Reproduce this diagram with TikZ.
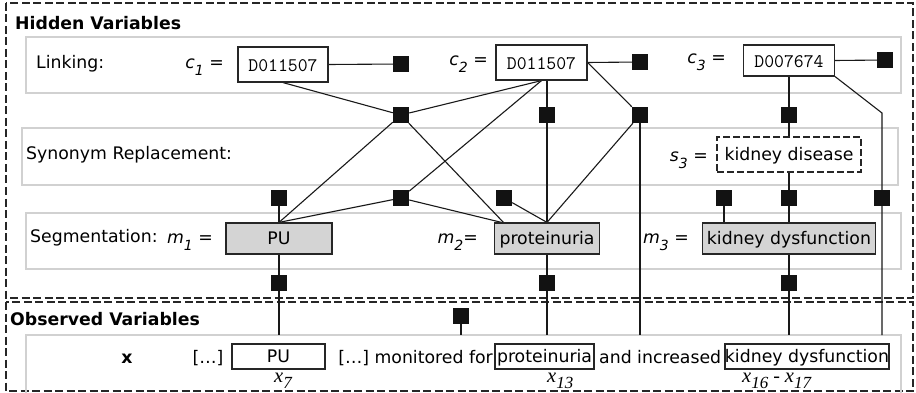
\documentclass[tikz,border=0pt]{standalone}
\usepackage{fontspec}
\setmainfont{DejaVu Sans}
\newfontfamily\serf{Liberation Serif}
\usetikzlibrary{calc}
\pgfdeclarelayer{back}
\pgfdeclarelayer{mid}
\pgfsetlayers{back,mid,main}
\newcommand\fsz{\fontsize{17.3}{20}\selectfont}
\newcommand\subsc[1]{\raisebox{-7pt}{\fontsize{14}{14}\selectfont\itshape #1}}
\newcommand\xsub[1]{{\serf\itshape\fontsize{20.5}{20}\selectfont x\raisebox{-6.5pt}{\fontsize{17}{17}\selectfont #1}}}
\tikzset{
  sq/.style={fill=black!93, draw=none, minimum size=16pt, inner sep=0pt},
  rowbox/.style={draw=black!18, line width=1.5pt},
  outerbox/.style={draw=black!85, line width=1.1pt, dash pattern=on 8pt off 3.5pt},
  conn/.style={draw=black!90, line width=1.1pt},
  cbox/.style={draw=black!85, fill=white, line width=1.2pt, inner sep=0pt, font=\ttfamily\fontsize{19.2}{20}\selectfont, text height=14.5pt, text depth=0pt},
  segbox/.style={draw=black!85, fill=black!17, line width=1.2pt, inner sep=0pt, font=\fsz, text height=12.6pt, text depth=0pt},
  obsbox/.style={draw=black!85, fill=white, line width=1.2pt, inner sep=0pt, font=\fsz, text height=12.6pt, text depth=0pt},
  synbox/.style={draw=black!85, fill=white, line width=1.2pt, dash pattern=on 7pt off 3pt, inner sep=0pt, font=\fsz, text height=12.6pt, text depth=0pt},
  lab/.style={font=\fsz, inner sep=0pt},
  head/.style={font=\fsz\bfseries, inner sep=0pt},
}
\begin{document}
\begin{tikzpicture}[x=1pt, y=-1pt]
\useasboundingbox (0,0) rectangle (916,393);
% outer dashed boxes and rows
\begin{pgfonlayer}{back}
\draw[outerbox] (6,3) rectangle (913,298);
\draw[outerbox] (6,302) rectangle (913,391);
\draw[rowbox] (26,37) rectangle (901,93);
\draw[rowbox] (22,128) rectangle (898,185);
\draw[rowbox] (26,213) rectangle (901,269);
\draw[rowbox] (26,393) -- (26,335) -- (901,335) -- (901,393);
\end{pgfonlayer}
\coordinate (obsTop) at (0,335);
% headings and labels
\node[head, anchor=base west] (hid) at (15,30) {Hidden Variables};
\node[head, anchor=base west] (obs) at (10,325) {Observed Variables};
\node[lab, anchor=base west] (llink) at (36,69) {Linking:};
\node[lab, anchor=base west] (lsyn) at (26,160) {Synonym Replacement:};
\node[lab, anchor=base west] (lseg) at (30,242) {Segmentation:};
% linking boxes
\node[cbox, minimum width=90pt, minimum height=35pt] (c1) at (283,64.5) {D011507};
\node[cbox, minimum width=91pt, minimum height=35pt] (c2) at (541.5,62.5) {D011507};
\node[cbox, minimum width=91pt, minimum height=31pt] (c3) at (789,60.5) {D007674};
\node[lab, anchor=base east] (c1l) at (224,69) {{\itshape c\subsc{1}} =};
\node[lab, anchor=base east] (c2l) at (488,65.5) {{\itshape c\subsc{2}} =};
\node[lab, anchor=base east] (c3l) at (726,64) {{\itshape c\subsc{3}} =};
% synonym
\node[synbox, minimum width=144pt, minimum height=35pt] (kd) at (789,154.5) {kidney disease};
\node[lab, anchor=base east] (s3l) at (708,161) {{\itshape s\subsc{3}} =};
% segmentation
\node[segbox, minimum width=106pt, minimum height=31pt] (pu) at (279,238.5) {PU};
\node[segbox, minimum width=105pt, minimum height=31pt] (pro) at (547,238.5) {proteinuria};
\node[segbox, minimum width=173pt, minimum height=31pt] (kdys) at (789,238.5) {kidney dysfunction};
\node[lab, anchor=base east] (m1l) at (213,243) {{\itshape m\subsc{1}} =};
\node[lab, anchor=base east] (m2l) at (478,243) {{\itshape m\subsc{2}}=};
\node[lab, anchor=base east] (m3l) at (689,243) {{\itshape m\subsc{3}} =};
\coordinate (proL) at (504,223);
% observed
\node[lab, anchor=base] (xl) at (127,363) {\bfseries x};
\node[lab, anchor=base] (dots1) at (208,363) {[…]};
\node[obsbox, minimum width=93pt, minimum height=25pt] (opu) at (278.5,356.5) {PU};
\node[lab, anchor=base east] (mon) at (493,363) {[…] monitored for};
\node[obsbox, minimum width=99pt, minimum height=25pt] (opro) at (544.5,356.5) {proteinuria};
\node[lab, anchor=base west] (andi) at (599,363) {and increased};
\node[obsbox, minimum width=164pt, minimum height=25pt] (okd) at (807,356.5) {kidney dysfunction};
\node[inner sep=0pt, anchor=base west] (x7) at (274,382) {\xsub{7}};
\node[inner sep=0pt, anchor=base west] (x13) at (547,382) {\xsub{13}};
\node[inner sep=0pt, anchor=base west] (x1617) at (742,382) {\xsub{16}{\serf\fontsize{20}{20}\selectfont{} - }\xsub{17}};
% factor squares
\node[sq] (lc1) at (401,64) {};
\node[sq] (lc2) at (640,62) {};
\node[sq] (lc3) at (885,60) {};
\node[sq] (fa) at (401,115) {};
\node[sq] (fb) at (547,115) {};
\node[sq] (fc) at (640,115) {};
\node[sq] (fd) at (789,115) {};
\node[sq] (ga) at (279,198) {};
\node[sq] (gb) at (401,198) {};
\node[sq] (gc) at (504,198) {};
\node[sq] (gd) at (724,198) {};
\node[sq] (ge) at (789,198) {};
\node[sq] (gf) at (882,198) {};
\node[sq] (ha) at (279,283) {};
\node[sq] (hb) at (547,283) {};
\node[sq] (hc) at (789,283) {};
\node[sq] (ob) at (461,316) {};
\coordinate (bend) at (882,113);
% connectors
\begin{pgfonlayer}{mid}
\draw[conn] (c1.east) -- (lc1);
\draw[conn] (c2.east) -- (lc2);
\draw[conn] (c3.east) -- (lc3);
\draw[conn] (c1.south) -- (fa);
\draw[conn] (fa) -- (c2.south);
\draw[conn] (fa) -- (pu.north);
\draw[conn] (fa) -- (proL);
\draw[conn] (gb) -- (c2.south);
\draw[conn] (gb) -- (pu.north);
\draw[conn] (gb) -- (proL);
\draw[conn] (ga) -- (pu.north);
\draw[conn] (gc) -- (pro.north);
\draw[conn] (c2.south -| fb) -- (fb) -- (pro.north);
\draw[conn] (c2.east) -- (fc);
\draw[conn] (fc) -- (pro.north);
\draw[conn] (fc) -- (fc |- obsTop);
\draw[conn] (c3.south) -- (fd) -- (kd.north);
\draw[conn] (kd.south) -- (ge) -- (kdys.north);
\draw[conn] (c3.south east) -- (bend) -- (gf) -- (gf |- obsTop);
\draw[conn] (gd) -- (gd |- kdys.north);
\draw[conn] (pu.south) -- (ha) -- (ha |- obsTop);
\draw[conn] (pro.south) -- (hb) -- (hb |- obsTop);
\draw[conn] (kdys.south) -- (hc) -- (hc |- obsTop);
\draw[conn] (ob) -- (ob |- obsTop);
\end{pgfonlayer}
\end{tikzpicture}
\end{document}
